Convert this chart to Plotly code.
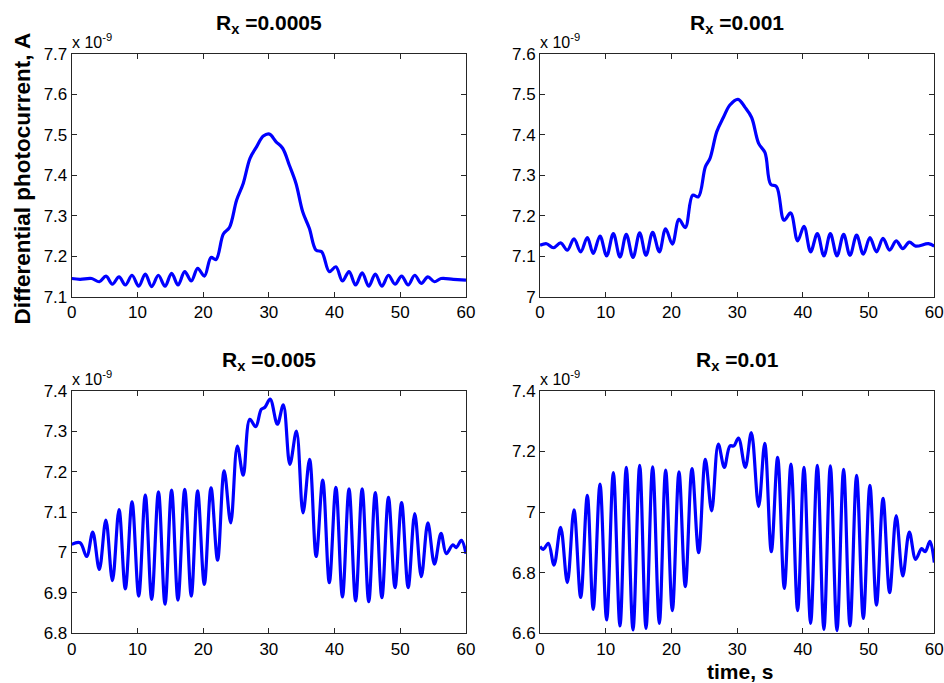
import plotly.graph_objects as go

# ---- data (values in units of 1e-9 A) ----
t_a = [0, 1.27, 3.04, 4.2, 5.22, 6.19, 7.2, 8.17, 9.18, 10.2, 11.2, 12.17, 13.19, 14.2, 15.2, 16.18,
       17.2, 18.2, 19.17, 20.19, 21.2, 21.96, 23.08, 24.0, 25.1, 26.1, 27.13, 28.15, 29.16, 30.08,
       31.1, 32.1, 33.12, 34.13, 35.15, 36.16, 37.18, 38.04, 39.2, 40.2, 41.2, 42.2, 43.2, 44.2,
       45.2, 46.2, 47.2, 48.2, 49.2, 50.2, 51.2, 52.2, 53.2, 54.2, 55.2, 56.2, 58.07, 60]
v_a = [7.145, 7.143, 7.145, 7.137, 7.151, 7.131, 7.149, 7.129, 7.153, 7.126, 7.156, 7.125, 7.153, 7.126,
       7.158, 7.129, 7.162, 7.139, 7.170, 7.151, 7.197, 7.192, 7.255, 7.271, 7.339, 7.380, 7.442, 7.471,
       7.497, 7.502, 7.483, 7.467, 7.425, 7.380, 7.310, 7.269, 7.215, 7.211, 7.162, 7.174, 7.139, 7.162,
       7.129, 7.159, 7.126, 7.156, 7.126, 7.153, 7.131, 7.151, 7.129, 7.153, 7.133, 7.149, 7.137, 7.145,
       7.143, 7.141]

t_b = [0, 1.0, 2.03, 3.14, 4.16, 5.17, 6.19, 7.2, 8.1, 9.13, 10.14, 11.16, 12.17, 13.13, 14.15, 15.17,
       16.13, 17.14, 18.16, 19.12, 20.14, 21.15, 22.11, 23.23, 24.1, 25.16, 25.87, 26.9, 27.9, 28.9,
       30.13, 31.2, 32.2, 33.27, 34.24, 35.1, 36.0, 37.13, 38.14, 39.2, 40.17, 41.18, 42.2, 43.2, 44.18,
       45.19, 46.2, 47.17, 48.18, 49.2, 50.2, 51.2, 52.2, 53.2, 54.2, 55.2, 56.2, 57.16, 59.1, 60]
v_b = [7.127, 7.131, 7.121, 7.133, 7.115, 7.143, 7.111, 7.146, 7.107, 7.150, 7.101, 7.156, 7.098, 7.154,
       7.097, 7.158, 7.102, 7.159, 7.111, 7.168, 7.130, 7.191, 7.171, 7.251, 7.247, 7.321, 7.342, 7.408,
       7.443, 7.474, 7.488, 7.468, 7.443, 7.379, 7.356, 7.278, 7.272, 7.189, 7.207, 7.138, 7.174, 7.111,
       7.156, 7.101, 7.156, 7.101, 7.154, 7.102, 7.152, 7.105, 7.146, 7.111, 7.144, 7.115, 7.138, 7.119,
       7.135, 7.125, 7.131, 7.125]

t_c = [0, 1.27, 2.28, 3.2, 4.2, 5.2, 6.2, 7.2, 8.16, 9.18, 10.2, 11.2, 12.17, 13.2, 14.2, 15.2, 16.17,
       17.2, 18.2, 19.16, 20.18, 21.2, 22.2, 23.2, 24.2, 25.2, 26.1, 27.1, 28.0, 28.85, 29.4, 30.2, 31.3,
       32.2, 33.2, 34.2, 35.2, 36.2, 37.2, 38.2, 39.2, 40.2, 41.2, 42.2, 43.2, 44.2, 45.2, 46.2, 47.2,
       48.2, 49.2, 50.2, 51.2, 52.2, 53.2, 54.2, 55.2, 56.2, 57.0, 58.0, 58.5, 59.3, 60]
v_c = [7.020, 7.024, 6.990, 7.050, 6.958, 7.080, 6.930, 7.106, 6.910, 7.125, 6.892, 7.142, 6.884, 7.150,
       6.872, 7.154, 6.882, 7.156, 6.892, 7.152, 6.921, 7.160, 6.981, 7.202, 7.073, 7.263, 7.191, 7.329,
       7.311, 7.354, 7.359, 7.379, 7.317, 7.365, 7.218, 7.300, 7.098, 7.230, 6.990, 7.179, 6.925, 7.161,
       6.890, 7.157, 6.880, 7.157, 6.878, 7.148, 6.888, 7.136, 6.913, 7.123, 6.913, 7.096, 6.940, 7.073,
       6.971, 7.047, 6.997, 7.019, 7.012, 7.030, 6.997]

t_d = [0, 0.5, 1.27, 2.13, 3.14, 4.16, 5.17, 6.19, 7.2, 8.1, 9.13, 10.14, 11.16, 12.17, 13.13, 14.15,
       15.17, 16.13, 17.14, 18.16, 19.12, 20.14, 21.15, 22.11, 23.13, 24.14, 25.16, 26.12, 27.13, 28.05,
       28.9, 29.5, 30.2, 31.24, 32.16, 33.27, 34.2, 35.2, 36.16, 37.18, 38.19, 39.2, 40.17, 41.18, 42.2,
       43.2, 44.18, 45.19, 46.2, 47.17, 48.18, 49.2, 50.2, 51.2, 52.2, 53.2, 54.2, 55.2, 56.2, 57.16,
       58.07, 58.6, 59.34, 60]
v_d = [6.886, 6.877, 6.897, 6.825, 6.949, 6.767, 7.007, 6.718, 7.055, 6.679, 7.092, 6.644, 7.130, 6.624,
       7.147, 6.611, 7.154, 6.616, 7.149, 6.633, 7.138, 6.675, 7.132, 6.754, 7.143, 6.866, 7.174, 7.004,
       7.224, 7.147, 7.218, 7.218, 7.244, 7.147, 7.262, 7.018, 7.226, 6.869, 7.180, 6.748, 7.158, 6.675,
       7.147, 6.633, 7.154, 6.613, 7.152, 6.609, 7.141, 6.624, 7.121, 6.649, 7.088, 6.693, 7.045, 6.734,
       6.988, 6.789, 6.934, 6.844, 6.879, 6.869, 6.903, 6.833]

titles = ["R<sub>x</sub> =0.0005", "R<sub>x</sub> =0.001", "R<sub>x</sub> =0.005", "R<sub>x</sub> =0.01"]
y_ranges = [[7.1, 7.7], [7.0, 7.6], [6.8, 7.4], [6.6, 7.4]]
y_dticks = [0.1, 0.1, 0.1, 0.2]
x_ticks = [0, 10, 20, 30, 40, 50, 60]

series = [(t_a, v_a), (t_b, v_b), (t_c, v_c), (t_d, v_d)]

W, H = 944, 683
xdoms = [[71.7 / W, 466 / W], [540 / W, 934.3 / W]]
ydoms = [[(H - 296.7) / H, (H - 54) / H], [(H - 633.3) / H, (H - 390.7) / H]]

fig = go.Figure()
font_family = "Liberation Sans, Arial, sans-serif"
axcol = "#262626"

layout = dict(width=W, height=H, margin=dict(l=0, r=0, t=0, b=0, autoexpand=False),
              paper_bgcolor="white", plot_bgcolor="white", showlegend=False,
              font=dict(family=font_family, color="black", size=17))
annotations = []
for i, (tx, vy) in enumerate(series):
    r, c = divmod(i, 2)
    n = "" if i == 0 else str(i + 1)
    fig.add_trace(go.Scatter(x=tx, y=vy, mode="lines", xaxis="x" + n, yaxis="y" + n,
                             line=dict(color="#0000FF", width=3.2, shape="spline", smoothing=1.0),
                             hoverinfo="skip"))
    common = dict(showline=True, linecolor=axcol, linewidth=1, mirror="allticks", ticks="inside",
                  ticklen=5, tickcolor=axcol, showgrid=False, zeroline=False, automargin=False,
                  tickfont=dict(size=17, family=font_family, color="black"))
    layout["xaxis" + n] = dict(domain=xdoms[c], range=[0, 60], tickvals=x_ticks,
                               anchor="y" + n, **common)
    layout["yaxis" + n] = dict(domain=ydoms[r], range=y_ranges[i], dtick=y_dticks[i], tick0=0,
                               anchor="x" + n, **common)
    xc = (xdoms[c][0] + xdoms[c][1]) / 2
    annotations.append(dict(text="<b>" + titles[i] + "</b>", x=xc, y=ydoms[r][1], xref="paper",
                            yref="paper", xanchor="center", yanchor="bottom", yshift=15,
                            showarrow=False, font=dict(size=21, family=font_family, color="black")))
    annotations.append(dict(text="x 10<sup>-9</sup>", x=xdoms[c][0], y=ydoms[r][1], xref="paper",
                            yref="paper", xanchor="left", yanchor="bottom", xshift=-2, yshift=1,
                            showarrow=False, font=dict(size=16, family=font_family, color="black")))

annotations.append(dict(text="<b>Differential photocurrent, A</b>", x=22 / W, y=(H - 178.5) / H,
                        xref="paper", yref="paper", xanchor="center", yanchor="middle",
                        textangle=-90, showarrow=False,
                        font=dict(size=22.5, family=font_family, color="black")))
annotations.append(dict(text="<b>time, s</b>", x=740 / W, y=(H - 671) / H,
                        xref="paper", yref="paper", xanchor="center", yanchor="middle",
                        showarrow=False, font=dict(size=21, family=font_family, color="black")))
layout["annotations"] = annotations
fig.update_layout(**layout)
fig.write_html("out.html")
